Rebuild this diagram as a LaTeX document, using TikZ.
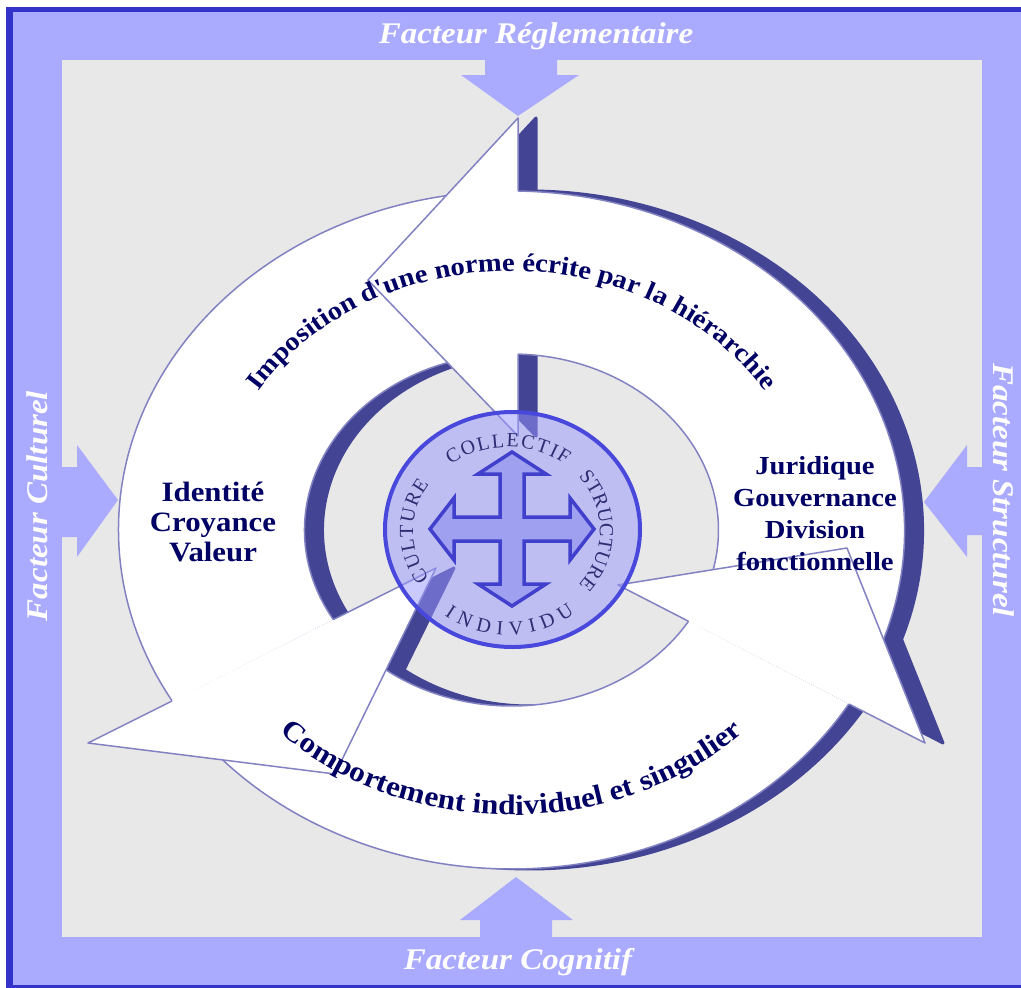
\documentclass[tikz,border=0pt]{standalone}
\usepackage{fontspec}
\setmainfont{Liberation Serif}
\newfontfamily\widefont{Liberation Serif}[FakeStretch=1.1]
\newfontfamily\plainfont{Liberation Serif}
\usetikzlibrary{decorations.text}
\definecolor{framedark}{RGB}{51,51,204}
\definecolor{peri}{RGB}{170,170,255}
\definecolor{bggray}{RGB}{232,232,232}
\definecolor{shade}{RGB}{68,68,148}
\definecolor{edgec}{RGB}{130,130,195}
\definecolor{navy}{RGB}{0,0,100}
\definecolor{circtext}{RGB}{45,45,115}
\definecolor{circfill}{RGB}{150,150,255}
\definecolor{circborder}{RGB}{72,72,220}
\definecolor{crossfill}{RGB}{160,160,240}
\definecolor{crossborder}{RGB}{64,64,204}
\newcommand\facfont{\widefont\bfseries\itshape\fontsize{30}{32}\selectfont}
\newcommand\toparcfont{\widefont\bfseries\fontsize{26}{30}\selectfont}
\newcommand\botarcfont{\widefont\bfseries\fontsize{28.5}{32}\selectfont}
\newcommand\circfont{\plainfont\fontsize{20}{22}\selectfont}
% ring bands (relative to ring centre)
\newcommand\bandAouter{(26:393 and 339) arc[start angle=26,end angle=-89.05,x radius=393,y radius=339]}
\newcommand\bandAinner{(-88.2:207 and 176) arc[start angle=-88.2,end angle=26,x radius=207,y radius=176]}
\newcommand\bandBouter{(-94:393 and 339) arc[start angle=-94,end angle=-210.3,x radius=393,y radius=339]}
\newcommand\bandBinner{(-210.6:207 and 176) arc[start angle=-210.6,end angle=-94,x radius=207,y radius=176]}
\newcommand\bandCouter{(-215.5:393 and 339) arc[start angle=-215.5,end angle=-329.15,x radius=393,y radius=339]}
\newcommand\bandCinner{(-328.8:207 and 176) arc[start angle=-328.8,end angle=-215.5,x radius=207,y radius=176]}
% arrow heads (absolute)
\newcommand\headA{(518,118) -- (368,280) -- (518,436) -- cycle}
\newcommand\headB{(88,743) -- (335,774) -- (436,568) -- cycle}
\newcommand\headC{(925,743) -- (847,548) -- (618,585) -- cycle}
\begin{document}
\begin{tikzpicture}[x=1pt,y=-1pt,
  factor/.style={fill=peri},
  factorlabel/.style={text=white,font=\facfont,inner sep=0pt},
  shadeshape/.style={fill=shade,draw=shade,line width=3pt,line join=round},
  outline/.style={draw=edgec,line width=1.5pt,line join=round},
  blocktext/.style={text=navy,align=center,inner sep=0pt},
  circletext/.style={decorate,decoration={text along path,text color=circtext,text align={fit to path},text={|\circfont|#1}}},
]
\useasboundingbox (0,0) rectangle (1021,988);
\fill[white] (0,0) rectangle (1021,988);
\fill[framedark] (6,7) rectangle (1021,988);
\fill[peri] (13,12) rectangle (1021,985);
\fill[bggray] (62,60) rectangle (982,937);
% factor arrows
\fill[factor] (485,59) -- (557,59) -- (557,75) -- (579,75) -- (518,116) -- (461,75) -- (485,75) -- cycle;
\fill[factor] (480,938) -- (480,920) -- (460,920) -- (516,877) -- (573,920) -- (552,920) -- (552,938) -- cycle;
\fill[factor] (61,467) -- (77,467) -- (77,445) -- (118,500) -- (77,557) -- (77,537) -- (61,537) -- cycle;
\fill[factor] (983,467) -- (967,467) -- (967,445) -- (924,502) -- (967,557) -- (967,535) -- (983,535) -- cycle;
\node[factorlabel] (freg) at (536,36) {Facteur Réglementaire};
\node[factorlabel] (fcog) at (518,962) {Facteur Cognitif};
\node[factorlabel,rotate=90] (fcul) at (37,506) {Facteur Culturel};
\node[factorlabel,rotate=-90] (fstr) at (1004,490) {Facteur Structurel};
% dark extrusion
\begin{scope}[shift={(529.5,530)}]
  \filldraw[shadeshape] \bandAouter -- \bandAinner -- cycle;
  \filldraw[shadeshape] \bandBouter -- \bandBinner -- cycle;
  \filldraw[shadeshape] \bandCouter -- \bandCinner -- cycle;
\end{scope}
\begin{scope}[shift={(18,0)}]
  \filldraw[shadeshape] \headA;
  \filldraw[shadeshape] \headB;
  \filldraw[shadeshape] \headC;
\end{scope}
% white bands
\begin{scope}[shift={(511.5,530)}]
  \fill[white] \bandAouter -- \bandAinner -- cycle;
  \fill[white] \bandBouter -- \bandBinner -- cycle;
  \fill[white] \bandCouter -- \bandCinner -- cycle;
  \draw[outline] \bandAouter; \draw[outline] \bandAinner;
  \draw[outline] \bandBouter; \draw[outline] \bandBinner;
  \draw[outline] \bandCouter; \draw[outline] \bandCinner;
\end{scope}
% heads
\fill[white] \headA;
\fill[white] \headB;
\fill[white] \headC;
\draw[outline] (518,191) -- (518,118) -- (368,280) -- (518,436) -- (518,354);
\draw[outline] (172,701) -- (88,743) -- (335,774) -- (436,568) -- (333.3,619.6);
\draw[outline] (849,704) -- (925,743) -- (847,548) -- (618,585) -- (688.6,621.3);
% arc texts
\begin{scope}[shift={(511.5,530)}]
  \path[decorate,decoration={text along path,text align=center,text color=navy,
    text={|\toparcfont|Imposition d'une norme écrite par la hiérarchie}}]
    (-165:300 and 259) arc[start angle=-165,end angle=-15,x radius=300,y radius=259];
  \path[decorate,decoration={text along path,text align=center,text color=navy,
    text={|\botarcfont|Comportement individuel et singulier}}]
    (140:330 and 285) arc[start angle=140,end angle=40,x radius=330,y radius=285];
\end{scope}
% centre disc
\filldraw[fill=circfill,fill opacity=0.5,draw=circborder,line width=4pt] (512.5,529.5) ellipse [x radius=127.5,y radius=117.5];
\filldraw[fill=crossfill,draw=crossborder,line width=3.5pt,line join=miter]
  (512,452) -- (546,474) -- (524,474) -- (524,517) -- (570,517) -- (570,498) -- (594,529)
  -- (570,560) -- (570,541) -- (524,541) -- (524,584) -- (546,584) -- (512,606)
  -- (478,584) -- (500,584) -- (500,541) -- (454,541) -- (454,560) -- (430,529)
  -- (454,498) -- (454,517) -- (500,517) -- (500,474) -- (478,474) -- cycle;
\begin{scope}[shift={(508,531)}]
  \path[circletext=COLLECTIF] (-128:93 and 84) arc[start angle=-128,end angle=-52,x radius=93,y radius=84];
  \path[circletext=STRUCTURE] (-40:92 and 84) arc[start angle=-40,end angle=40,x radius=92,y radius=84];
  \path[circletext=CULTURE] (146:95 and 84) arc[start angle=146,end angle=214,x radius=95,y radius=84];
  \path[circletext=INDIVIDU] (126:108 and 104) arc[start angle=126,end angle=52,x radius=108,y radius=104];
\end{scope}
% block texts
\node[blocktext,font=\widefont\bfseries\fontsize{28}{30}\selectfont] (icv) at (213,522) {Identité\\Croyance\\Valeur};
\node[blocktext,font=\widefont\bfseries\fontsize{26}{32}\selectfont] (jgd) at (815,514) {Juridique\\Gouvernance\\Division\\fonctionnelle};
\end{tikzpicture}
\end{document}
